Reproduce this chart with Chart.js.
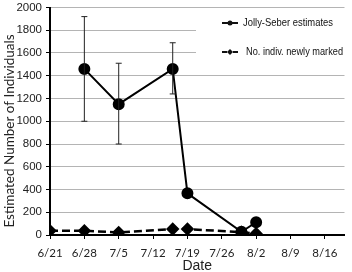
<!DOCTYPE html>
<html>
<head>
<meta charset="utf-8">
<script src="https://cdn.jsdelivr.net/npm/chart.js@4"></script>
<style>
  html, body { margin: 0; padding: 0; background: #fff; }
  #wrap { width: 352px; height: 272px; }
</style>
</head>
<body>
<div id="wrap"><canvas id="chart"></canvas></div>
<script>
// tick labels on the date axis (one per week)
const dateTicks = ['6/21', '6/28', '7/5', '7/12', '7/19', '7/26', '8/2', '8/9', '8/16'];

// Jolly-Seber estimates with error bars
const jsDates = ['6/28', '7/5', '7/16', '7/19', '7/30', '8/2'];
const jsValues = [1460, 1150, 1460, 366, 28, 112];
const jsLow = [1000, 800, 1240, null, null, null];
const jsHigh = [1920, 1510, 1690, null, null, null];

// number of individuals newly marked
const markDates = ['6/21', '6/28', '7/5', '7/16', '7/19', '7/30', '8/2'];
const markValues = [38, 37, 22, 52, 52, 25, 12];

const legendLabels = ['Jolly-Seber estimates', 'No. indiv. newly marked'];
const yTitle = 'Estimated Number of Individuals';

// days since 6/21
function dayNum(s) {
    const [m, d] = s.split('/').map(Number);
    const start = { 6: 0, 7: 30, 8: 61 }[m];
    return start + d - 21;
}

const jsPoints = jsDates.map((d, i) => ({ x: dayNum(d), y: jsValues[i] }));
const markPoints = markDates.map((d, i) => ({ x: dayNum(d), y: markValues[i] }));

const errorBars = {
    id: 'errorBars',
    afterDatasetsDraw(chart) {
        const ctx = chart.ctx;
        const xs = chart.scales.x, ys = chart.scales.y;
        ctx.save();
        ctx.strokeStyle = '#222';
        ctx.lineWidth = 1;
        jsDates.forEach((d, i) => {
            if (jsLow[i] == null) return;
            const x = xs.getPixelForValue(dayNum(d));
            const y1 = ys.getPixelForValue(jsLow[i]);
            const y2 = ys.getPixelForValue(jsHigh[i]);
            ctx.beginPath();
            ctx.moveTo(x, y1); ctx.lineTo(x, y2);
            ctx.moveTo(x - 3, y1); ctx.lineTo(x + 3, y1);
            ctx.moveTo(x - 3, y2); ctx.lineTo(x + 3, y2);
            ctx.stroke();
        });
        ctx.restore();
    }
};

// draw text squeezed sideways to the width it has in the original
function fitText(ctx, text, x, y, width) {
    ctx.save();
    ctx.font = '11.5px "Liberation Sans", Arial, sans-serif';
    const sx = Math.min(1, width / ctx.measureText(text).width);
    ctx.translate(x, y);
    ctx.scale(sx, 1);
    ctx.fillText(text, 0, 0);
    ctx.restore();
}

const boxLegend = {
    id: 'boxLegend',
    afterDraw(chart) {
        const ctx = chart.ctx;
        ctx.save();
        ctx.fillStyle = '#fff';
        ctx.fillRect(196, 12, 156, 48);
        ctx.fillStyle = '#111';
        ctx.strokeStyle = '#111';
        ctx.textBaseline = 'middle';
        // first entry: solid line with circle
        ctx.lineWidth = 2;
        ctx.beginPath(); ctx.moveTo(222, 23); ctx.lineTo(238, 23); ctx.stroke();
        ctx.beginPath(); ctx.arc(230, 23, 2.5, 0, Math.PI * 2); ctx.fill();
        fitText(ctx, legendLabels[0], 243, 23, 90);
        // second entry: dashed line with diamond
        ctx.beginPath(); ctx.moveTo(222, 52); ctx.lineTo(227, 52); ctx.moveTo(233, 52); ctx.lineTo(238, 52); ctx.stroke();
        ctx.beginPath();
        ctx.moveTo(230, 49); ctx.lineTo(233, 52); ctx.lineTo(230, 55); ctx.lineTo(227, 52);
        ctx.closePath(); ctx.fill();
        fitText(ctx, legendLabels[1], 246, 52, 97);

        // y axis title, a bit below the middle of the axis as in the original
        ctx.font = '13.5px Lato, sans-serif';
        ctx.fillStyle = '#222';
        ctx.textAlign = 'center';
        ctx.translate(10, 131);
        ctx.rotate(-Math.PI / 2);
        ctx.fillText(yTitle, 0, 0);
        ctx.restore();
    }
};

const ctx = document.getElementById('chart').getContext('2d');
new Chart(ctx, {
    type: 'scatter',
    data: {
        datasets: [{
            label: legendLabels[0],
            data: jsPoints,
            showLine: true,
            borderColor: '#000',
            backgroundColor: '#000',
            borderWidth: 2,
            pointRadius: 5,
            pointStyle: 'circle'
        }, {
            label: legendLabels[1],
            data: markPoints,
            showLine: true,
            borderColor: '#000',
            backgroundColor: '#000',
            borderWidth: 2.5,
            borderDash: [8, 4],
            pointRadius: 5,
            pointStyle: 'rectRot'
        }]
    },
    options: {
        responsive: true,
        maintainAspectRatio: false,
        animation: false,
        devicePixelRatio: 1,
        layout: { padding: { top: 4, right: 0, left: 0, bottom: 0 } },
        plugins: {
            legend: { display: false },
            tooltip: { enabled: false }
        },
        scales: {
            x: {
                type: 'linear',
                min: 0,
                max: 60,
                ticks: {
                    stepSize: 7,
                    includeBounds: false,
                    autoSkip: false,
                    color: '#222',
                    padding: 7,
                    maxRotation: 0,
                    font: { family: 'Lato, sans-serif', size: 11.5 },
                    callback: v => dateTicks[v / 7] || ''
                },
                grid: { drawOnChartArea: false, drawTicks: true, tickLength: 4, color: '#000', lineWidth: 1 },
                border: { color: '#000', width: 2 },
                title: {
                    display: true,
                    text: 'Date',
                    color: '#222',
                    padding: { top: 0, bottom: -3 },
                    font: { family: '"Liberation Sans", Arial, sans-serif', size: 14 }
                },
                afterFit: axis => { axis.height = 37; axis.paddingRight = 0; }
            },
            y: {
                min: 0,
                max: 2000,
                ticks: {
                    stepSize: 200,
                    color: '#222',
                    padding: 4,
                    font: { family: '"Liberation Sans", Arial, sans-serif', size: 11.5 },
                    callback: v => String(v)
                },
                grid: { color: '#b4b4b4', lineWidth: 1, drawTicks: true, tickLength: 4, tickColor: '#000' },
                border: { color: '#000', width: 2 },
                title: { display: false },
                afterFit: axis => { axis.width = 50; axis.paddingTop = 0; axis.paddingBottom = 0; }
            }
        }
    },
    plugins: [errorBars, boxLegend]
});
</script>
</body>
</html>
